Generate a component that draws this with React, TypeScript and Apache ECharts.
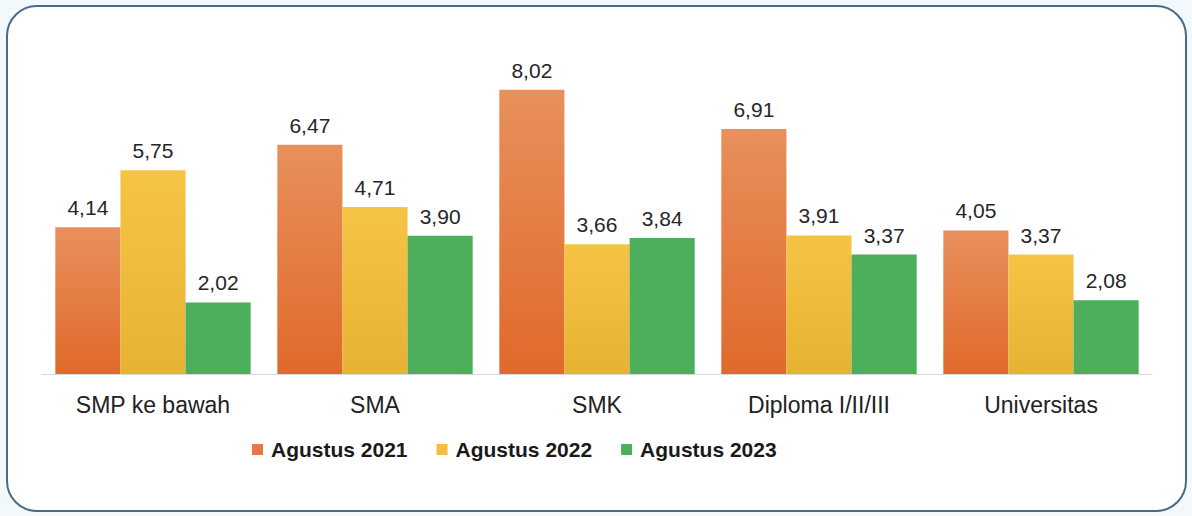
import React, { useEffect, useRef } from "react";
import * as echarts from "echarts";

const categories = ["SMP ke bawah", "SMA", "SMK", "Diploma I/II/III", "Universitas"];
const seriesNames = ["Agustus 2021", "Agustus 2022", "Agustus 2023"];
const values2021 = [4.14, 6.47, 8.02, 6.91, 4.05];
const values2022 = [5.75, 4.71, 3.66, 3.91, 3.37];
const values2023 = [2.02, 3.9, 3.84, 3.37, 2.08];

const fmt = (v: number) => v.toFixed(2).replace(".", ",");

export default function App() {
  const ref = useRef<HTMLDivElement>(null);
  useEffect(() => {
    if (!ref.current) return;
    const chart = echarts.init(ref.current, null, { renderer: "svg" });
    const font = "'Liberation Sans', Arial, sans-serif";
    const orange = new echarts.graphic.LinearGradient(0, 0, 0, 1, [
      { offset: 0, color: "#e8905c" },
      { offset: 1, color: "#e0692b" },
    ]);
    const yellow = new echarts.graphic.LinearGradient(0, 0, 0, 1, [
      { offset: 0, color: "#f6c445" },
      { offset: 1, color: "#e7b232" },
    ]);
    const green = "#4daf5b";
    const label = {
      show: true,
      position: "top",
      distance: 9,
      fontFamily: font,
      fontSize: 21,
      color: "#262626",
      formatter: (p: any) => fmt(p.value),
    };
    const mk = (name: string, data: number[], color: any) => ({
      name,
      type: "bar",
      data,
      barGap: "0%",
      barCategoryGap: "12%",
      itemStyle: { color },
      label,
      emphasis: { disabled: true },
    });
    chart.setOption({
      animation: false,
      backgroundColor: "#f3f8fb",
      graphic: [
        {
          type: "rect",
          shape: { x: 7, y: 6, width: 1179, height: 505, r: 30 },
          style: { fill: "#ffffff", stroke: "#4b6a88", lineWidth: 2 },
          z: -10,
        },
      ],
      grid: { left: 42, right: 40, top: 55, bottom: 142, containLabel: false },
      legend: {
        top: 434,
        left: 247,
        itemWidth: 11,
        itemHeight: 11,
        itemGap: 29,
        icon: "rect",
        data: [
          { name: seriesNames[0], itemStyle: { color: "#e5783f" } },
          { name: seriesNames[1], itemStyle: { color: "#f2bf3e" } },
          { name: seriesNames[2], itemStyle: { color: green } },
        ],
        textStyle: { fontFamily: font, fontSize: 21, fontWeight: "bold", color: "#1a1a1a", padding: [0, 0, 0, 3] },
      },
      xAxis: {
        type: "category",
        data: categories,
        axisTick: { show: false },
        axisLine: { lineStyle: { color: "#d9d9d9", width: 1 } },
        axisLabel: { fontFamily: font, fontSize: 23, color: "#222222", margin: 19 },
      },
      yAxis: { type: "value", min: 0, max: 9, show: false, splitLine: { show: false } },
      series: [
        mk(seriesNames[0], values2021, orange),
        mk(seriesNames[1], values2022, yellow),
        mk(seriesNames[2], values2023, green),
      ],
    });
    return () => chart.dispose();
  }, []);
  return (
    <div
      ref={ref}
      style={{ position: "fixed", left: 0, top: 0, width: 1192, height: 516 }}
    />
  );
}
